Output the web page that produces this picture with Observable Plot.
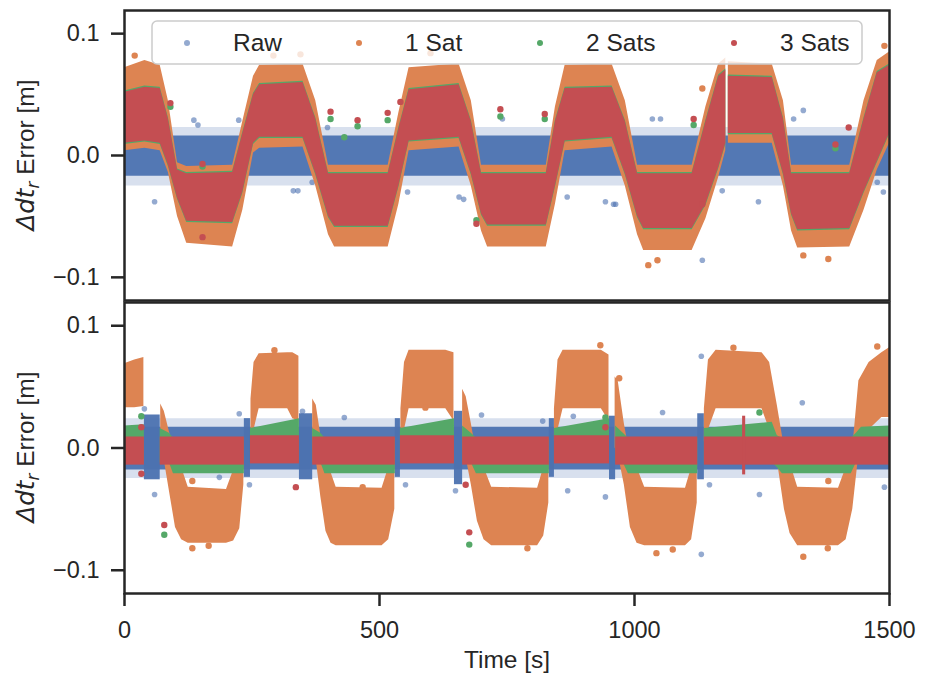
<!DOCTYPE html>
<html><head><meta charset="utf-8">
<script src="https://cdn.jsdelivr.net/npm/d3@7"></script>
<script src="https://cdn.jsdelivr.net/npm/@observablehq/plot@0.6"></script>
<style>
body{margin:0;background:#fff;}
#wrap{position:relative;width:934px;height:680px;overflow:hidden;background:#fff;}
#wrap svg{position:absolute;left:0;}
</style></head><body><div id="wrap"></div>
<script>
// ---------------- data ----------------
const seriesNames = ["Raw", "1 Sat", "2 Sats", "3 Sats"];
const xTicks = [0, 500, 1000, 1500];
const yTicks = [-0.1, 0.0, 0.1];

// Top panel: envelopes (time knots, lower/upper edge) of each dense series
const topT = [0,40,70,86,104,122,212,232,253,265,350,375,400,412,517,538,558,656,680,700,712,827,845,864,956,982,1006,1018,1113,1140,1165,1179,1181,1184,1270,1292,1308,1320,1422,1450,1476,1500];
const topRedLo = [0.010,0.012,0.010,-0.008,-0.035,-0.054,-0.055,-0.030,0.010,0.015,0.015,-0.015,-0.050,-0.058,-0.058,-0.025,0.012,0.015,-0.015,-0.048,-0.057,-0.057,-0.025,0.012,0.015,-0.015,-0.050,-0.060,-0.060,-0.040,-0.010,0.010,null,0.018,0.018,-0.015,-0.048,-0.061,-0.060,-0.030,-0.005,0.018];
const topRedHi = [0.052,0.056,0.055,0.030,-0.012,-0.015,-0.014,0.018,0.050,0.058,0.060,0.030,-0.015,-0.015,-0.015,0.022,0.054,0.058,0.028,-0.015,-0.015,-0.015,0.028,0.055,0.056,0.028,-0.015,-0.015,-0.015,0.028,0.065,0.070,null,0.065,0.064,0.030,-0.015,-0.015,-0.015,0.030,0.068,0.074];
const topGreenLo = [0.009,0.011,0.009,-0.009,-0.036,-0.055,-0.056,-0.031,0.009,0.014,0.014,-0.016,-0.051,-0.059,-0.059,-0.026,0.011,0.014,-0.016,-0.049,-0.058,-0.058,-0.026,0.011,0.014,-0.016,-0.051,-0.061,-0.061,-0.041,-0.011,0.009,null,0.017,0.017,-0.016,-0.049,-0.062,-0.061,-0.031,-0.006,0.017];
const topGreenHi = [0.053,0.057,0.056,0.031,-0.011,-0.014,-0.013,0.019,0.051,0.059,0.061,0.031,-0.014,-0.014,-0.014,0.023,0.055,0.059,0.029,-0.014,-0.014,-0.014,0.029,0.056,0.057,0.029,-0.014,-0.014,-0.014,0.029,0.066,0.071,null,0.066,0.065,0.031,-0.014,-0.014,-0.014,0.031,0.069,0.075];
const topOrangeLo = [0.004,0.006,0.004,-0.014,-0.050,-0.072,-0.075,-0.045,0.002,0.006,0.007,-0.025,-0.065,-0.075,-0.075,-0.040,0.004,0.007,-0.025,-0.062,-0.075,-0.075,-0.040,0.004,0.007,-0.025,-0.065,-0.078,-0.078,-0.052,-0.018,0.004,null,0.010,0.010,-0.025,-0.062,-0.076,-0.075,-0.045,-0.012,0.010];
const topOrangeHi = [0.072,0.078,0.074,0.045,-0.006,-0.009,-0.008,0.028,0.065,0.074,0.075,0.045,-0.008,-0.008,-0.008,0.035,0.072,0.075,0.045,-0.008,-0.008,-0.008,0.040,0.074,0.075,0.045,-0.008,-0.008,-0.008,0.040,0.075,0.080,null,0.077,0.075,0.045,-0.008,-0.008,-0.008,0.045,0.078,0.085];
const topBlueT = [0, 1500];
const topBlueLo = [-0.017, -0.017];
const topBlueHi = [0.016, 0.016];
const topBlueFringeLo = [-0.025, -0.025];
const topBlueFringeHi = [0.023, 0.023];

// Top panel: isolated points
const topBlueOutT = [59,136,144,224,331,340,368,398,555,656,665,741,868,943,959,963,1035,1051,1133,1172,1243,1312,1331,1476,1488];
const topBlueOutV = [-0.038,0.029,0.025,0.029,-0.029,-0.029,-0.022,0.023,-0.030,-0.034,-0.036,0.030,-0.034,-0.038,-0.040,-0.040,0.030,0.030,-0.086,-0.029,-0.038,0.030,0.037,-0.022,-0.030];
const topOrangeOutT = [1027,1045,1380,1331,1133,292,345,600,1490,20];
const topOrangeOutV = [-0.090,-0.086,-0.085,-0.082,0.055,0.082,0.083,0.084,0.090,0.082];
const topGreenOutT = [90,153,404,431,457,516,690,737,824,1116,1394];
const topGreenOutV = [0.040,-0.009,0.030,0.015,0.024,0.029,-0.053,0.032,0.030,0.025,0.006];
const topRedOutT = [90,153,153,404,457,516,541,690,737,824,1116,1133,1394,1420];
const topRedOutV = [0.043,-0.007,-0.067,0.036,0.029,0.035,0.044,-0.056,0.038,0.034,0.030,-0.040,0.009,0.023];

// Bottom panel: envelopes
const botBlueT = [0, 1500];
const botBlueLo = [-0.018, -0.018];
const botBlueHi = [0.017, 0.017];
const botBlueFringeLo = [-0.025, -0.025];
const botBlueFringeHi = [0.024, 0.024];
const botBlueBarStart = [39,235,343,531,647,833,951,1124];
const botBlueBarEnd = [70,247,369,541,663,843,963,1137];
const botBlueBarLo = [-0.026,-0.024,-0.026,-0.024,-0.030,-0.024,-0.026,-0.026];
const botBlueBarHi = [0.027,0.024,0.028,0.024,0.030,0.024,0.026,0.028];

const botOrangeT = [0,20,38,39, 71,78,90,100,112,125,200,214,226,234,236, 248,254,264,320,330,342,344, 369,376,385,395,405,415,505,518,530,532, 542,549,558,630,646,648, 663,670,680,692,705,720,810,822,832,834, 843,850,860,935,950,952, 962,968,980,992,1005,1020,1100,1112,1123,1125, 1137,1145,1160,1250,1265,1280,1294,1305,1320,1400,1415,1428,1440,1460,1485,1500];
const botOrangeLo = [0.033,0.033,0.034,null, 0.002,-0.010,-0.040,-0.065,-0.075,-0.078,-0.078,-0.076,-0.066,-0.030,null, 0.008,0.015,0.032,0.032,0.024,0.022,null, 0.000,-0.010,-0.040,-0.068,-0.078,-0.080,-0.080,-0.075,-0.050,null, 0.005,0.015,0.032,0.032,0.022,null, 0.000,-0.008,-0.030,-0.060,-0.075,-0.080,-0.080,-0.072,-0.045,null, 0.005,0.015,0.032,0.032,0.022,null, 0.000,-0.005,-0.030,-0.065,-0.078,-0.080,-0.080,-0.075,-0.045,null, 0.005,0.015,0.032,0.032,0.015,-0.010,-0.050,-0.070,-0.080,-0.080,-0.075,-0.050,-0.005,0.015,0.025,0.025];
const botOrangeHi = [0.069,0.072,0.074,null, 0.036,0.030,0.010,-0.010,-0.016,-0.032,-0.034,-0.018,-0.008,-0.004,null, 0.040,0.070,0.077,0.078,0.078,0.075,null, 0.040,0.035,0.010,-0.012,-0.020,-0.032,-0.033,-0.016,-0.005,null, 0.032,0.070,0.080,0.080,0.078,null, 0.048,0.042,0.020,-0.008,-0.016,-0.032,-0.033,-0.016,-0.004,null, 0.032,0.072,0.080,0.080,0.076,null, 0.058,0.055,0.020,-0.008,-0.016,-0.032,-0.033,-0.016,-0.004,null, 0.032,0.072,0.080,0.078,0.070,0.035,0.000,-0.012,-0.032,-0.033,-0.016,0.000,0.055,0.070,0.078,0.082];

const botGreenT = [0,39,40, 70,88,96,235,236, 247,343,344, 369,385,393,531,532, 541,647,648, 663,680,690,833,834, 843,951,952, 963,978,988,1124,1125, 1137,1270,1280,1290,1425,1435,1445,1500];
const botGreenLo = [-0.012,-0.012,null, -0.012,-0.012,-0.021,-0.021,null, -0.012,-0.012,null, -0.012,-0.012,-0.021,-0.021,null, -0.012,-0.012,null, -0.012,-0.012,-0.021,-0.021,null, -0.012,-0.012,null, -0.012,-0.012,-0.021,-0.021,null, -0.012,-0.012,-0.016,-0.021,-0.021,-0.012,-0.012,-0.012];
const botGreenHi = [0.018,0.019,null, 0.016,0.012,0.008,0.008,null, 0.016,0.024,null, 0.016,0.012,0.008,0.008,null, 0.016,0.024,null, 0.018,0.012,0.008,0.008,null, 0.016,0.024,null, 0.018,0.012,0.008,0.008,null, 0.016,0.021,0.010,0.008,0.008,0.012,0.017,0.018];

const botRedStart = [0,70,247,369,541,663,843,963,1137,1212];
const botRedEnd = [39,235,343,531,647,833,951,1124,1500,1218];
const botRedLo = [-0.014,-0.014,-0.013,-0.014,-0.013,-0.014,-0.013,-0.014,-0.014,-0.022];
const botRedHi = [0.009,0.009,0.010,0.009,0.010,0.009,0.010,0.009,0.009,0.026];

// Bottom panel: isolated points
const botBlueOutT = [1131,1131,1245,1147,1329,943,869,551,649,431,59,225,39,349,186,245,820,1055,1490,700,1300,880];
const botBlueOutV = [0.075,-0.087,-0.038,-0.030,0.037,-0.040,-0.035,-0.030,-0.035,0.025,-0.038,0.028,0.032,0.030,-0.024,-0.030,0.022,0.029,-0.032,0.027,-0.028,0.026];
const botOrangeOutT = [133,264,294,590,467,933,970,1075,1043,790,1194,1476,1331,1379,1380,133,165];
const botOrangeOutV = [-0.027,0.072,0.080,0.033,-0.032,0.084,0.057,-0.083,-0.086,-0.082,0.082,0.083,-0.089,-0.082,-0.027,-0.082,-0.080];
const botGreenOutT = [78,33,676,943,1245];
const botGreenOutV = [-0.071,0.026,-0.079,0.025,0.029];
const botRedOutT = [78,33,33,336,676,669,943];
const botRedOutV = [-0.063,0.017,-0.021,-0.032,-0.069,-0.030,0.017];

// ---------------- drawing ----------------
const C = {raw: "#4c72b0", s1: "#dd8452", s2: "#55a868", s3: "#c44e52"};
const INK = "#262626";
const FONT = "Liberation Sans, Arial, Helvetica, sans-serif";
const band = (T, lo, hi) => T.map((t, i) => ({t, lo: lo[i], hi: hi[i]}));
const pts = (T, V) => T.map((t, i) => ({t, v: V[i]}));
const rects = (S, E, L, H) => S.map((s, i) => ({s, e: E[i], lo: L[i], hi: H[i]}));
const yFmt = d3.format(".1f");
const xFmt = d3.format("d");
const area = (data, fill, extra = {}) => Plot.areaY(data, {x: "t", y1: "lo", y2: "hi", fill, curve: "linear", ...extra});
const dots = (data, fill, extra = {}) => Plot.dot(data, {x: "t", y: "v", r: 3.2, fill, stroke: null, ...extra});

const styleObj = {fontFamily: FONT, fontSize: "23.5px", color: INK, background: "transparent", overflow: "visible"};
const yDomain = [-0.119, 0.119];

function panel(opts, marks) {
  return Plot.plot({
    width: 934, marginLeft: 124, marginRight: 45,
    x: {domain: [0, 1500], axis: null},
    y: {domain: yDomain, axis: null},
    style: styleObj,
    ...opts,
    marks: [
      ...marks,
      Plot.axisY(yTicks, {tickSize: 13, tickPadding: 12, tickFormat: yFmt, strokeWidth: 2.5, stroke: INK, fill: INK, label: null, fontSize: 23.5})
    ]
  });
}

const topSvg = panel({height: 302, marginTop: 10, marginBottom: 2}, [
  area(band(topBlueT, topBlueFringeLo, topBlueFringeHi), C.raw, {fillOpacity: 0.22}),
  area(band(topBlueT, topBlueLo, topBlueHi), C.raw, {fillOpacity: 0.95}),
  dots(pts(topBlueOutT, topBlueOutV), C.raw, {r: 2.8, fillOpacity: 0.6}),
  area(band(topT, topOrangeLo, topOrangeHi), C.s1),
  dots(pts(topOrangeOutT, topOrangeOutV), C.s1),
  area(band(topT, topGreenLo, topGreenHi), C.s2),
  dots(pts(topGreenOutT, topGreenOutV), C.s2),
  area(band(topT, topRedLo, topRedHi), C.s3),
  dots(pts(topRedOutT, topRedOutV), C.s3),
  Plot.frame({stroke: INK, strokeWidth: 2.5})
]);

const botSvg = panel({height: 388, marginTop: 10, marginBottom: 87}, [
  area(band(botBlueT, botBlueFringeLo, botBlueFringeHi), C.raw, {fillOpacity: 0.22}),
  area(band(botBlueT, botBlueLo, botBlueHi), C.raw, {fillOpacity: 0.95}),
  Plot.rect(rects(botBlueBarStart, botBlueBarEnd, botBlueBarLo, botBlueBarHi), {x1: "s", x2: "e", y1: "lo", y2: "hi", fill: C.raw, fillOpacity: 0.95}),
  dots(pts(botBlueOutT, botBlueOutV), C.raw, {r: 2.8, fillOpacity: 0.6}),
  area(band(botOrangeT, botOrangeLo, botOrangeHi), C.s1),
  dots(pts(botOrangeOutT, botOrangeOutV), C.s1),
  area(band(botGreenT, botGreenLo, botGreenHi), C.s2),
  dots(pts(botGreenOutT, botGreenOutV), C.s2),
  Plot.rect(rects(botRedStart, botRedEnd, botRedLo, botRedHi), {x1: "s", x2: "e", y1: "lo", y2: "hi", fill: C.s3}),
  dots(pts(botRedOutT, botRedOutV), C.s3),
  Plot.frame({stroke: INK, strokeWidth: 2.5}),
  Plot.axisX(xTicks, {tickSize: 13, tickPadding: 15, tickFormat: xFmt, strokeWidth: 2.5, stroke: INK, fill: INK, label: null, fontSize: 23.5})
]);

const wrap = document.getElementById("wrap");
topSvg.style.top = "0px";
botSvg.style.top = "292px";
wrap.appendChild(topSvg);
wrap.appendChild(botSvg);

// y-axis labels (Δdt_r Error [m])
function yLabel(svg, cy) {
  const t = d3.select(svg).append("text")
    .attr("transform", `translate(34,${cy}) rotate(-90)`)
    .attr("text-anchor", "middle").attr("font-size", 24.5)
    .attr("font-family", FONT).attr("fill", INK);
  t.append("tspan").attr("font-family", "DejaVu Sans").attr("font-style", "italic").text("Δdt");
  t.append("tspan").attr("font-family", "DejaVu Sans").attr("font-style", "italic").attr("font-size", 17).attr("dy", 5).text("r");
  t.append("tspan").attr("dy", -5).text(" Error [m]");
}
yLabel(topSvg, 155);
yLabel(botSvg, 155);

// x-axis label
d3.select(botSvg).append("text").attr("x", 507).attr("y", 376)
  .attr("text-anchor", "middle").attr("font-size", 24.5)
  .attr("font-family", FONT).attr("fill", INK).text("Time [s]");

// legend (inside the top panel)
const lg = d3.select(topSvg).append("g").attr("text-anchor", "start");
lg.append("rect").attr("x", 152).attr("y", 21).attr("width", 710).attr("height", 43).attr("rx", 5)
  .attr("fill", "white").attr("fill-opacity", 0.8).attr("stroke", "#cccccc").attr("stroke-width", 1.5);
const legendColors = [C.raw, C.s1, C.s2, C.s3];
const legendOpacity = [0.6, 1, 1, 1];
const legendMarkX = [187, 359, 540, 734];
seriesNames.forEach((name, i) => {
  lg.append("circle").attr("cx", legendMarkX[i]).attr("cy", 43).attr("r", 3)
    .attr("fill", legendColors[i]).attr("fill-opacity", legendOpacity[i]);
  lg.append("text").attr("x", legendMarkX[i] + 46).attr("y", 51).attr("text-anchor", "start")
    .attr("font-size", 24.5).attr("font-family", FONT).attr("fill", INK).text(name);
});
</script>
</body></html>
